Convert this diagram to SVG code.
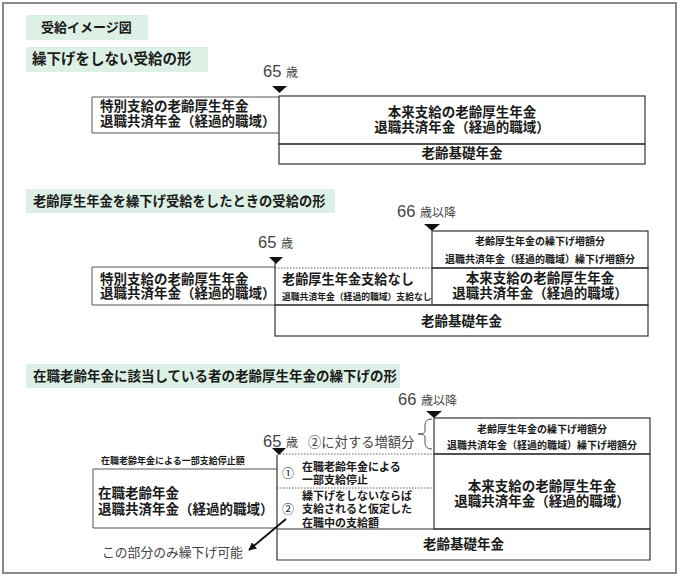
<svg xmlns="http://www.w3.org/2000/svg" width="680" height="579" viewBox="0 0 680 579">
<defs>
<style>
text{font-family:"Noto Sans CJK JP","Noto Sans",sans-serif;fill:#1a1a1a}
.t{font-weight:bold}
.b{font-size:13.5px;font-weight:bold}
.bc{font-size:13.5px;font-weight:bold;text-anchor:middle}
.s{font-size:10px;font-weight:bold;text-anchor:middle}
.lab{font-size:12px;fill:#444}
.lab tspan.d{font-family:"Liberation Sans",Arial,sans-serif;font-size:16.5px}
.box{fill:none;stroke:#333;stroke-width:1.2}
.lbox{fill:none;stroke:#555;stroke-width:1}
.dot{stroke:#666;stroke-width:1;stroke-dasharray:1.5 1.5;fill:none}
.hdr{fill:#ddf0e5}
.tri{fill:#111}
.m{font-size:11px;font-weight:bold}
</style>
<marker id="ah" viewBox="0 0 10 10" refX="9" refY="5" markerWidth="4" markerHeight="4" orient="auto">
<path d="M0,0 L10,5 L0,10 z" fill="#111"/>
</marker>
</defs>
<rect x="3" y="3" width="673" height="570" fill="#fff" stroke="#888" stroke-width="2"/>

<g id="title-main">
<rect class="hdr" x="26" y="15" width="122" height="25"/>
<text class="t" x="41" y="32" font-size="13">受給イメージ図</text>
</g>

<!-- Section 1 -->
<g id="sec1-title">
<rect class="hdr" x="26" y="47" width="182" height="25"/>
<text class="t" x="32" y="64" font-size="14.5">繰下げをしない受給の形</text>
</g>
<g id="sec1-age65">
<text class="lab" x="263" y="77"><tspan class="d">65 </tspan>歳</text>
<path class="tri" d="M272,86 L287,86 L279.5,93 z"/>
</g>
<g id="sec1-special">
<path class="lbox" d="M279,97 L92,97 L92,133 L279,133"/>
<text class="b" x="100" y="111">特別支給の老齢厚生年金</text>
<text class="b" x="100" y="126">退職共済年金（経過的職域）</text>
</g>
<g id="sec1-honrai">
<rect class="box" x="279" y="96" width="366" height="48"/>
<text class="bc" x="462" y="117">本来支給の老齢厚生年金</text>
<text class="bc" x="462" y="132">退職共済年金（経過的職域）</text>
</g>
<g id="sec1-kiso">
<rect class="box" x="279" y="144" width="366" height="20"/>
<text class="bc" x="462" y="158">老齢基礎年金</text>
</g>

<!-- Section 2 -->
<g id="sec2-title">
<rect class="hdr" x="26" y="189" width="309" height="24"/>
<text class="t" x="33" y="206" font-size="13.3">老齢厚生年金を繰下げ受給をしたときの受給の形</text>
</g>
<g id="sec2-age65">
<text class="lab" x="258" y="248"><tspan class="d">65 </tspan>歳</text>
<path class="tri" d="M269,257 L283,257 L276,264 z"/>
</g>
<g id="sec2-age66">
<text class="lab" x="397" y="217"><tspan class="d">66 </tspan>歳以降</text>
<path class="tri" d="M424,224 L440,224 L432,231 z"/>
</g>
<g id="sec2-special">
<path class="lbox" d="M275,267 L92,267 L92,305 L275,305"/>
<text class="b" x="100" y="283.5">特別支給の老齢厚生年金</text>
<text class="b" x="100" y="298">退職共済年金（経過的職域）</text>
</g>
<g id="sec2-nashi">
<path class="dot" d="M275,268 L432,268"/>
<path class="box" d="M275,263 L275,305 L432,305"/>
<text x="282" y="284" font-size="13.2" font-weight="bold">老齢厚生年金支給なし</text>
<text x="282" y="300" font-size="8.8" font-weight="bold">退職共済年金（経過的職域）支給なし</text>
</g>
<g id="sec2-zougaku">
<rect class="box" x="432" y="231" width="216" height="37"/>
<text class="s" x="540" y="245">老齢厚生年金の繰下げ増額分</text>
<text class="s" x="540" y="263">退職共済年金（経過的職域）繰下げ増額分</text>
</g>
<g id="sec2-honrai">
<rect class="box" x="432" y="268" width="216" height="37"/>
<text class="bc" x="540" y="283">本来支給の老齢厚生年金</text>
<text class="bc" x="540" y="298">退職共済年金（経過的職域）</text>
</g>
<g id="sec2-kiso">
<rect class="box" x="275" y="305" width="373" height="31"/>
<text class="bc" x="461.5" y="326">老齢基礎年金</text>
</g>

<!-- Section 3 -->
<g id="sec3-title">
<rect class="hdr" x="26" y="364" width="374" height="24"/>
<text class="t" x="33" y="381" font-size="13.5">在職老齢年金に該当している者の老齢厚生年金の繰下げの形</text>
</g>
<g id="sec3-age66">
<text class="lab" x="398" y="405"><tspan class="d">66 </tspan>歳以降</text>
<path class="tri" d="M426,411 L442,411 L434,418 z"/>
</g>
<g id="sec3-age65">
<text class="lab" x="263" y="447"><tspan class="d">65 </tspan>歳</text>
<path class="tri" d="M272,448 L286,448 L279,455 z"/>
</g>
<g id="sec3-increase-label">
<text x="308" y="447" font-size="13.3" style="fill:#444">②に対する増額分</text>
</g>
<g id="sec3-zaishoku">
<path class="lbox" d="M277,469 L93,469 L93,528 L277,528"/>
<text x="101" y="464" font-size="9" font-weight="bold">在職老齢年金による一部支給停止額</text>
<text class="b" x="98" y="498">在職老齢年金</text>
<text class="b" x="98" y="514">退職共済年金（経過的職域）</text>
</g>
<g id="sec3-part1">
<path class="dot" d="M277,454 L434,454"/>
<text x="282" y="478" font-size="12">①</text>
<text class="m" x="302" y="471">在職老齢年金による</text>
<text class="m" x="302" y="484">一部支給停止</text>
</g>
<g id="sec3-part2">
<path class="dot" d="M277,488 L434,488"/>
<text x="282" y="514" font-size="12">②</text>
<text class="m" x="302" y="500">繰下げをしないならば</text>
<text class="m" x="302" y="513">支給されると仮定した</text>
<text class="m" x="302" y="527">在職中の支給額</text>
</g>
<g id="sec3-zougaku">
<rect class="box" x="434" y="418" width="216" height="36"/>
<text class="s" x="542" y="433">老齢厚生年金の繰下げ増額分</text>
<text class="s" x="542" y="449">退職共済年金（経過的職域）繰下げ増額分</text>
</g>
<g id="sec3-honrai">
<rect class="box" x="434" y="454" width="216" height="75"/>
<text class="bc" x="542" y="491">本来支給の老齢厚生年金</text>
<text class="bc" x="542" y="506">退職共済年金（経過的職域）</text>
</g>
<g id="sec3-kiso">
<path class="box" d="M277,455 L277,560 L650,560 L650,529 L277,529"/>
<text class="bc" x="463.5" y="549">老齢基礎年金</text>
</g>
<g id="sec3-note">
<text x="102" y="557" font-size="12.8" style="fill:#444">この部分のみ繰下げ可能</text>
</g>

<g id="connectors">
<path d="M432,419 Q425,419 425,425 L425,431 Q425,434 418,434 Q425,434 425,437 L425,443 Q425,449 432,449" fill="none" stroke="#555" stroke-width="1"/>
<line x1="286" y1="519" x2="249" y2="550" stroke="#111" stroke-width="2" marker-end="url(#ah)"/>
</g>
</svg>
